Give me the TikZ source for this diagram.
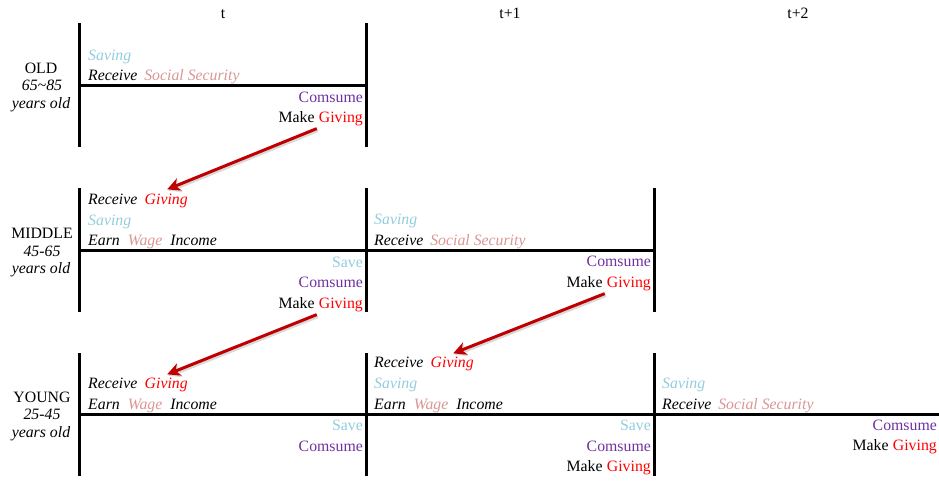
\documentclass[tikz,border=0pt]{standalone}
\usepackage{fontspec}
\setmainfont{Liberation Serif}
\usetikzlibrary{arrows.meta}
\definecolor{savc}{RGB}{146,205,220}
\definecolor{ssc}{RGB}{217,150,148}
\definecolor{purc}{RGB}{112,48,160}
\definecolor{givc}{RGB}{255,0,0}
\definecolor{arrc}{RGB}{192,0,0}
\begin{document}
\begin{tikzpicture}[x=1pt,y=-1pt,
  txt/.style={inner sep=0pt,font=\fontsize{15.8}{19}\selectfont},
  itx/.style={inner sep=0pt,font=\fontsize{15.8}{19}\selectfont\itshape},
  bl/.style={anchor=base west},
  br/.style={anchor=base east},
  lbl/.style={inner sep=0pt,anchor=base,font=\fontsize{15.8}{19}\selectfont},
  bar/.style={line width=3pt},
  givearrow/.style={draw=arrc,line width=3pt,-{Stealth[length=13pt,width=13pt,inset=4pt]}},
  shadowarrow/.style={draw=black,opacity=0.15,line width=4pt,-{Stealth[length=13pt,width=13pt,inset=4pt]}}]
\useasboundingbox (0,0) rectangle (939,480);

% headers
\node[lbl] (ht) at (223,18) {t};
\node[lbl] (ht1) at (510,18) {t+1};
\node[lbl] (ht2) at (798,18) {t+2};

% row labels
\node[lbl] (lo1) at (41,73) {OLD};
\node[lbl,font=\fontsize{15.8}{19}\selectfont\itshape] (lo2) at (42,90) {65\textasciitilde85};
\node[lbl,font=\fontsize{15.8}{19}\selectfont\itshape] (lo3) at (41,108) {years old};
\node[lbl] (lm1) at (42,238) {MIDDLE};
\node[lbl,font=\fontsize{15.8}{19}\selectfont\itshape] (lm2) at (42,256) {45-65};
\node[lbl,font=\fontsize{15.8}{19}\selectfont\itshape] (lm3) at (41,273) {years old};
\node[lbl] (ly1) at (42,402) {YOUNG};
\node[lbl,font=\fontsize{15.8}{19}\selectfont\itshape] (ly2) at (42,419) {25-45};
\node[lbl,font=\fontsize{15.8}{19}\selectfont\itshape] (ly3) at (41,437) {years old};

% grid lines
\draw[bar] (79,23) -- (79,147);
\draw[bar] (366,23) -- (366,147);
\draw[bar] (79,85) -- (366,85);
\draw[bar] (79,188) -- (79,312);
\draw[bar] (366,188) -- (366,312);
\draw[bar] (654,188) -- (654,312);
\draw[bar] (79,250) -- (654,250);
\draw[bar] (79,353) -- (79,476);
\draw[bar] (366,353) -- (366,476);
\draw[bar] (654,353) -- (654,476);
\draw[bar] (79,414) -- (939,414);

% OLD, t
\node[itx,bl,text=savc] (os) at (88,60) {Saving};
\node[itx,bl] (or) at (88,80) {Receive\hspace{7pt}\textcolor{ssc}{Social Security}};
\node[txt,br,text=purc] (oc) at (363,102) {Comsume};
\node[txt,br,text=givc] (oG) at (363,122) {Giving};
\node[txt,br] (oM) at ([xshift=-4pt]oG.base west) {Make};

% MIDDLE, t
\node[itx,bl] (mR) at (88,204) {Receive};
\node[itx,bl,text=givc] (mRG) at ([xshift=7pt]mR.base east) {Giving};
\node[itx,bl,text=savc] (ms) at (88,225) {Saving};
\node[itx,bl] (me) at (88,245) {Earn\hspace{8pt}\textcolor{ssc}{Wage}\hspace{8pt}Income};
\node[txt,br,text=savc] (msv) at (363,267) {Save};
\node[txt,br,text=purc] (mc) at (363,287) {Comsume};
\node[txt,br,text=givc] (mG) at (363,308) {Giving};
\node[txt,br] (mM) at ([xshift=-4pt]mG.base west) {Make};

% MIDDLE, t+1
\node[itx,bl,text=savc] (m1s) at (374,224) {Saving};
\node[itx,bl] (m1r) at (374,245) {Receive\hspace{7pt}\textcolor{ssc}{Social Security}};
\node[txt,br,text=purc] (m1c) at (651,266) {Comsume};
\node[txt,br,text=givc] (m1G) at (651,287) {Giving};
\node[txt,br] (m1M) at ([xshift=-4pt]m1G.base west) {Make};

% YOUNG, t
\node[itx,bl] (yR) at (88,388) {Receive};
\node[itx,bl,text=givc] (yRG) at ([xshift=7pt]yR.base east) {Giving};
\node[itx,bl] (ye) at (88,409) {Earn\hspace{8pt}\textcolor{ssc}{Wage}\hspace{8pt}Income};
\node[txt,br,text=savc] (ysv) at (363,430) {Save};
\node[txt,br,text=purc] (yc) at (363,451) {Comsume};

% YOUNG, t+1
\node[itx,bl] (y1R) at (374,367) {Receive};
\node[itx,bl,text=givc] (y1RG) at ([xshift=7pt]y1R.base east) {Giving};
\node[itx,bl,text=savc] (y1s) at (374,388) {Saving};
\node[itx,bl] (y1e) at (374,409) {Earn\hspace{8pt}\textcolor{ssc}{Wage}\hspace{8pt}Income};
\node[txt,br,text=savc] (y1sv) at (651,430) {Save};
\node[txt,br,text=purc] (y1c) at (651,451) {Comsume};
\node[txt,br,text=givc] (y1G) at (651,471) {Giving};
\node[txt,br] (y1M) at ([xshift=-4pt]y1G.base west) {Make};

% YOUNG, t+2
\node[itx,bl,text=savc] (y2s) at (662,388) {Saving};
\node[itx,bl] (y2r) at (662,409) {Receive\hspace{7pt}\textcolor{ssc}{Social Security}};
\node[txt,br,text=purc] (y2c) at (937,430) {Comsume};
\node[txt,br,text=givc] (y2G) at (937,450) {Giving};
\node[txt,br] (y2M) at ([xshift=-4pt]y2G.base west) {Make};

% arrows
\coordinate (a1s) at ([shift={(-2,3)}]oG.south west);
\coordinate (a1e) at ([shift={(1,-4)}]mRG.north);
\coordinate (a2s) at ([shift={(-2,3)}]mG.south west);
\coordinate (a2e) at ([shift={(1,-3)}]yRG.north);
\coordinate (a3s) at ([shift={(-2,3)}]m1G.south west);
\coordinate (a3e) at ([shift={(1,-3)}]y1RG.north);
\foreach \s/\e in {a1s/a1e,a2s/a2e,a3s/a3e}{
  \draw[shadowarrow] ([shift={(1,1.5)}]\s) -- ([shift={(1,1.5)}]\e);
  \draw[givearrow] (\s) -- (\e);
}
\end{tikzpicture}
\end{document}
